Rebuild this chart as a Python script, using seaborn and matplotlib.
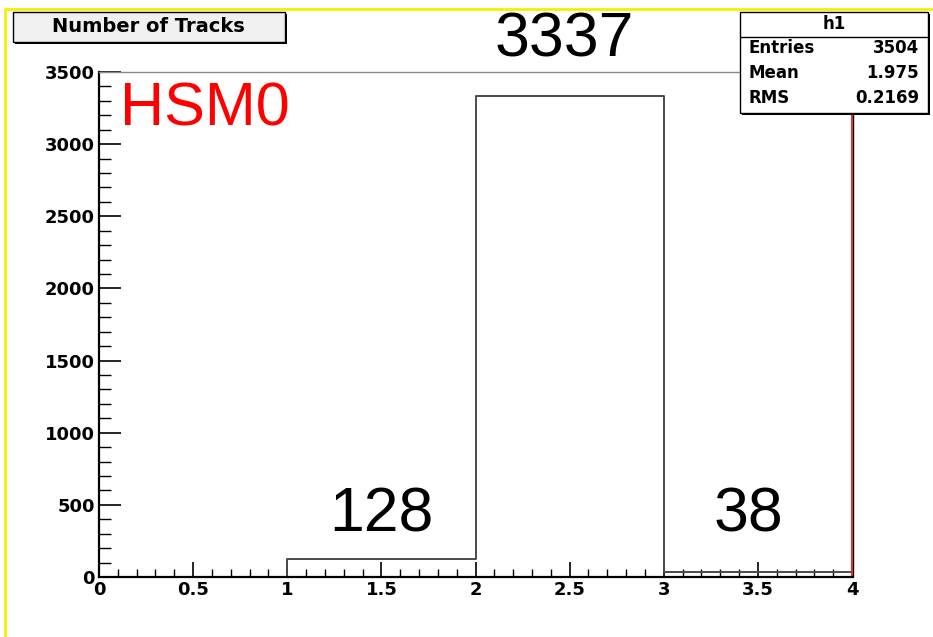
import numpy as np
import pandas as pd
import matplotlib
matplotlib.use("Agg")
import matplotlib.pyplot as plt
import matplotlib.transforms as mtransforms
import seaborn as sns
from matplotlib.patches import Rectangle
from matplotlib.lines import Line2D

# ---- data ----
bin_edges = [0, 1, 2, 3, 4]
bin_centers = [0.5, 1.5, 2.5, 3.5]
counts = [0, 128, 3337, 38]
count_labels = ["128", "3337", "38"]
label_x = [1.5, 2.47, 3.45]
label_y = [430, 3722, 430]
stats_names = ["Entries", "Mean", "RMS"]
stats_values = ["3504", "1.975", "0.2169"]
hist_name = "h1"
title = "Number of Tracks"
tag = "HSM0"
xticks = [0, 0.5, 1, 1.5, 2, 2.5, 3, 3.5, 4]
xticklabels = ["0", "0.5", "1", "1.5", "2", "2.5", "3", "3.5", "4"]
yticks = [0, 500, 1000, 1500, 2000, 2500, 3000, 3500]
yticklabels = ["0", "500", "1000", "1500", "2000", "2500", "3000", "3500"]

sns.set_style("white")
plt.rcParams["font.family"] = ["Liberation Sans", "DejaVu Sans"]
plt.rcParams["text.color"] = "black"
plt.rcParams["xtick.color"] = "black"
plt.rcParams["ytick.color"] = "black"
plt.rcParams["xtick.labelcolor"] = "black"
plt.rcParams["ytick.labelcolor"] = "black"
BOLD = ["DejaVu Sans"]

W, H = 933, 637
fig = plt.figure(figsize=(W / 100, H / 100), dpi=100)

def fx(px):
    return px / W

def fy(py):
    return 1 - py / H

ax = fig.add_axes([fx(99), fy(577), fx(852) - fx(99), fy(72) - fy(577)])

df = pd.DataFrame({"x": bin_centers, "w": counts})
sns.histplot(data=df, x="x", weights="w", bins=bin_edges, element="step",
             fill=False, color="#4a4a4a", linewidth=1.4, ax=ax)

ax.set_xlim(0, 4)
ax.set_ylim(0, 3500)
ax.set_xlabel("")
ax.set_ylabel("")
ax.set_xticks(xticks)
ax.set_xticklabels(xticklabels, fontweight="bold", fontsize=13, family=BOLD,
                   color="black")
ax.set_yticks(yticks)
ax.set_yticklabels(yticklabels, fontweight="bold", fontsize=13, family=BOLD,
                   color="black")
ax.set_xticks(np.arange(0, 4.0001, 0.1), minor=True)
ax.set_yticks(np.arange(0, 3500.1, 100), minor=True)
ax.tick_params(axis="x", which="major", direction="in", length=11, width=1.2,
               color="black", pad=3, bottom=True, top=False)
ax.tick_params(axis="x", which="minor", direction="in", length=6, width=1,
               color="black", bottom=True, top=False)
ax.tick_params(axis="y", which="major", direction="in", length=16, width=1.2,
               color="black", pad=3, left=True, right=False)
ax.tick_params(axis="y", which="minor", direction="in", length=8.5, width=1,
               color="black", left=True, right=False)

for s in ["left", "bottom"]:
    ax.spines[s].set_color("black")
    ax.spines[s].set_linewidth(1.6)
ax.spines["top"].set_color("#8a8a8a")
ax.spines["top"].set_linewidth(1)
ax.spines["right"].set_color("#e03030")
ax.spines["right"].set_linewidth(1.4)
# thin black line just right of the red edge
off = mtransforms.offset_copy(ax.transAxes, fig=fig, x=1.2, y=0, units="dots")
ax.add_line(Line2D([1, 1], [0, 1], transform=off, color="black",
                   linewidth=1, clip_on=False))

for t, x, y in zip(count_labels, label_x, label_y):
    ax.text(x, y, t, ha="center", va="center", fontsize=45, color="black",
            clip_on=False)
ax.text(0.11, 3237, tag, ha="left", va="center", fontsize=44, color="#ff0000")

# yellow frame
fig.add_artist(Line2D([fx(4.5), fx(4.5)], [fy(9), 0], color="#f5f000", linewidth=2))
fig.add_artist(Line2D([fx(4.5), 1], [fy(9), fy(9)], color="#f5f000", linewidth=2))

# title box with shadow
fig.add_artist(Rectangle((fx(15), fy(44)), fx(272), fy(12) - fy(42),
                         facecolor="black", edgecolor="none", zorder=5))
fig.add_artist(Rectangle((fx(13), fy(42)), fx(272), fy(12) - fy(42),
                         facecolor="#f0f0f0", edgecolor="black", linewidth=1, zorder=6))
fig.text(fx(148), fy(26), title, ha="center", va="center", fontsize=14,
         fontweight="bold", family=BOLD, color="black", zorder=7)

# stats box with shadow
bx0, by0, bx1, by1 = 740, 12, 928, 113
fig.add_artist(Rectangle((fx(bx0 + 2), fy(by1 + 2)), fx(bx1 - bx0), fy(by0) - fy(by1),
                         facecolor="black", edgecolor="none", zorder=5))
fig.add_artist(Rectangle((fx(bx0), fy(by1)), fx(bx1 - bx0), fy(by0) - fy(by1),
                         facecolor="white", edgecolor="black", linewidth=1, zorder=6))
fig.add_artist(Line2D([fx(bx0), fx(bx1)], [fy(37), fy(37)], color="black",
                      linewidth=1, zorder=7))
fig.text(fx(834), fy(24), hist_name, ha="center", va="center", fontsize=12,
         fontweight="bold", family=BOLD, color="black", zorder=7)
for i, (n, v) in enumerate(zip(stats_names, stats_values)):
    yy = 48 + i * 25
    fig.text(fx(748), fy(yy), n, ha="left", va="center", fontsize=12,
             fontweight="bold", family=BOLD, color="black", zorder=7)
    fig.text(fx(919), fy(yy), v, ha="right", va="center", fontsize=12,
             fontweight="bold", family=BOLD, color="black", zorder=7)

fig.savefig("out.png", dpi=100, facecolor="white")
